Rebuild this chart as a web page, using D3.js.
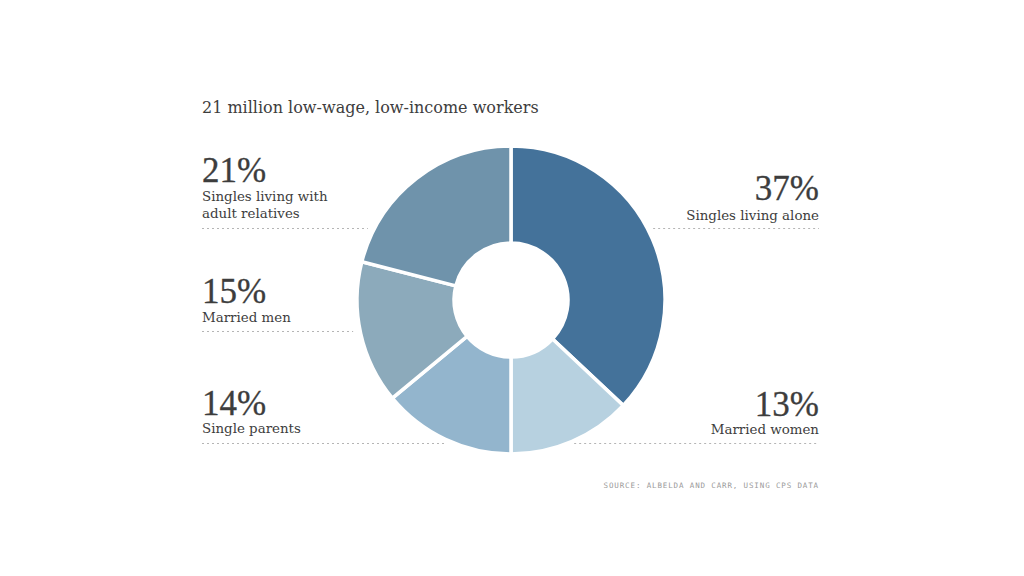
<!DOCTYPE html>
<html>
<head>
<meta charset="utf-8">
<script src="https://cdn.jsdelivr.net/npm/d3@7"></script>
<style>
  html, body { margin: 0; padding: 0; background: #fff; }
  svg { display: block; }
</style>
</head>
<body>
<svg id="chart" width="1024" height="576"></svg>
<script>
// ---- data ----
const categories = ["Singles living alone", "Married women", "Single parents", "Married men", "Singles living with adult relatives"];
const values = [37, 13, 14, 15, 21];
const labelLines = [["Singles living alone"], ["Married women"], ["Single parents"], ["Married men"], ["Singles living with", "adult relatives"]];
const colors = ["#44729a", "#b7d1e0", "#93b5cd", "#8caabb", "#6f93ab"];
const title = "21 million low-wage, low-income workers";
const source = "SOURCE: ALBELDA AND CARR, USING CPS DATA";

// ---- layout ----
const svg = d3.select("#chart");
const cx = 511, cy = 300, R = 154, r = 57;
const leftX = 202, rightX = 819;
const layout = [
  { side: "right", pct: 200, lab: 220, dot: 228 },
  { side: "right", pct: 416, lab: 434, dot: 443 },
  { side: "left",  pct: 415, lab: 433, dot: 443 },
  { side: "left",  pct: 303, lab: 322, dot: 331 },
  { side: "left",  pct: 182, lab: 201, dot: 228 }
];
const textColor = "#3d3d3d";

svg.append("text")
  .attr("x", leftX).attr("y", 113)
  .attr("font-family", "DejaVu Serif")
  .attr("font-size", 16)
  .attr("fill", textColor)
  .text(title);

const edgeX = (y, side) => {
  const dy = y - cy;
  const half = Math.abs(dy) < R ? Math.sqrt(R * R - dy * dy) : 0;
  return side === "left" ? cx - half : cx + half;
};
layout.forEach((L, i) => {
  const e = edgeX(L.dot, L.side);
  const x1 = L.side === "left" ? leftX : e + 6;
  const x2 = L.side === "left" ? e - 7 : rightX;
  svg.append("line")
    .attr("x1", x1).attr("x2", x2)
    .attr("y1", L.dot + 0.5).attr("y2", L.dot + 0.5)
    .attr("stroke", "#b5b5b5")
    .attr("stroke-width", 1)
    .attr("stroke-dasharray", "2,3");
});

const pie = d3.pie().sort(null).value(d => d)(values);
const arc = d3.arc().innerRadius(r).outerRadius(R);
svg.append("g")
  .attr("transform", `translate(${cx},${cy})`)
  .selectAll("path")
  .data(pie)
  .join("path")
  .attr("d", arc)
  .attr("fill", (d, i) => colors[i])
  .attr("stroke", "#fff")
  .attr("stroke-width", 3.5)
  .attr("stroke-linejoin", "miter");

layout.forEach((L, i) => {
  const x = L.side === "left" ? leftX : rightX;
  const anchor = L.side === "left" ? "start" : "end";
  svg.append("text")
    .attr("x", x).attr("y", L.pct)
    .attr("text-anchor", anchor)
    .attr("font-family", "Liberation Serif")
    .attr("font-size", 35)
    .attr("fill", textColor)
    .attr("stroke", textColor)
    .attr("stroke-width", 0.3)
    .text(values[i] + "%");
  labelLines[i].forEach((line, j) => {
    svg.append("text")
      .attr("x", x).attr("y", L.lab + j * 17)
      .attr("text-anchor", anchor)
      .attr("font-family", "DejaVu Serif")
      .attr("font-size", 13.4)
      .attr("fill", textColor)
      .text(line);
  });
});

svg.append("text")
  .attr("x", rightX).attr("y", 488)
  .attr("text-anchor", "end")
  .attr("font-family", "DejaVu Sans Mono")
  .attr("font-size", 7.5)
  .attr("letter-spacing", 0.87)
  .attr("fill", "#9a9a9a")
  .text(source);
</script>
</body>
</html>
